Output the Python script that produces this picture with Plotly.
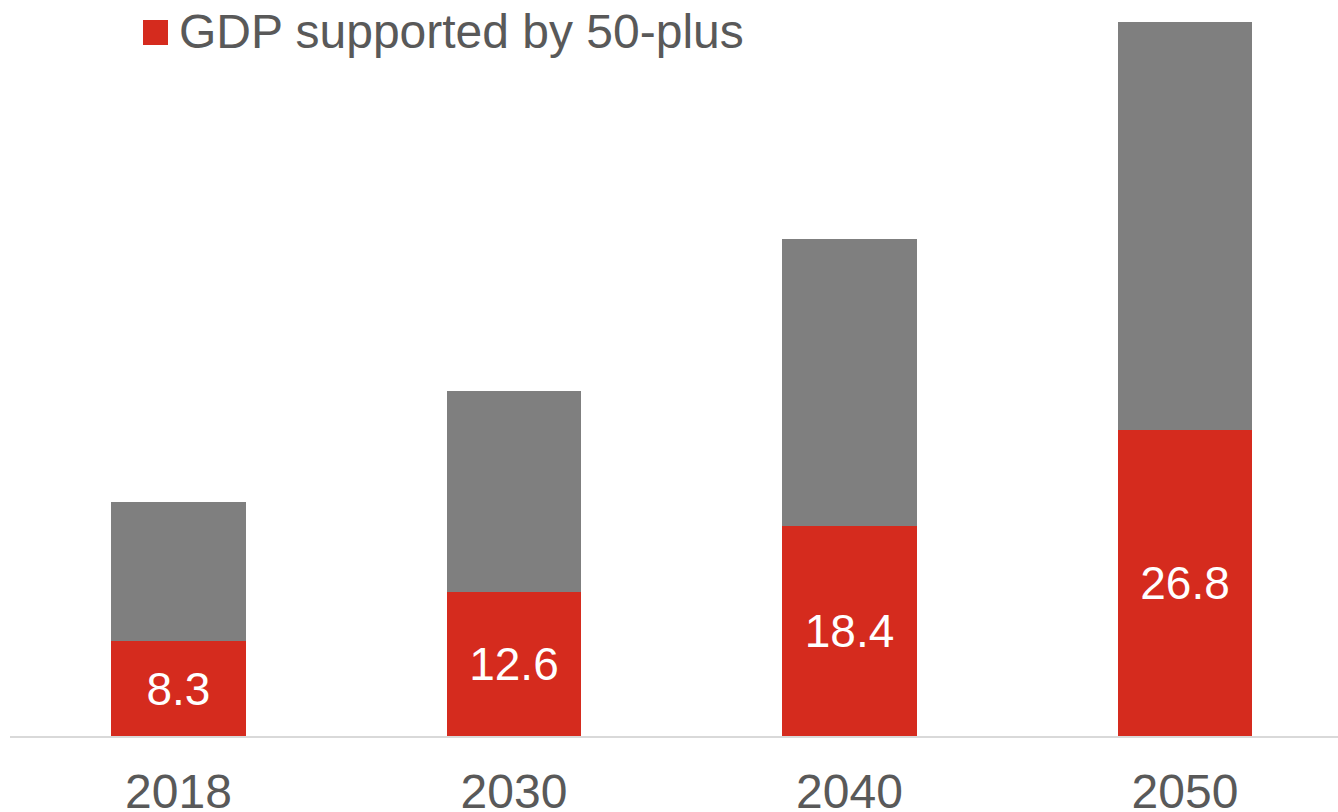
import plotly.graph_objects as go

# Stacked GDP bars: portion supported by the 50-plus population and the remainder
years = ["2018", "2030", "2040", "2050"]
gdp_50_plus = [8.3, 12.6, 18.4, 26.8]
gdp_rest = [12.2, 17.7, 25.2, 35.8]

RED = "#D52B1E"
GREY = "#7F7F7F"
TEXT = "#595959"
FONT = "Liberation Sans, Arial, sans-serif"

W, H = 1338, 812
L_MARGIN, B_MARGIN = 10, 76
plot_w = W - L_MARGIN
plot_h = H - B_MARGIN

fig = go.Figure()
fig.add_trace(go.Bar(
    x=years, y=gdp_50_plus, name="GDP supported by 50-plus",
    marker=dict(color=RED, line=dict(width=0)),
    text=[f"{v:.1f}" for v in gdp_50_plus],
    textposition="inside", insidetextanchor="middle", textangle=0,
    constraintext="none",
    textfont=dict(family=FONT, size=46, color="white"),
    hoverinfo="skip", showlegend=False,
))
fig.add_trace(go.Bar(
    x=years, y=gdp_rest, name="Other GDP",
    marker=dict(color=GREY, line=dict(width=0)),
    hoverinfo="skip", showlegend=False,
))

# Legend key: red swatch with its label, placed in pixel terms via paper coordinates
def px_x(p):
    return (p - L_MARGIN) / plot_w

def px_y(p):
    return (plot_h - p) / plot_h

fig.add_shape(type="rect", xref="paper", yref="paper",
              x0=px_x(143), x1=px_x(168), y0=px_y(45), y1=px_y(20),
              fillcolor=RED, line=dict(width=0))
fig.add_annotation(xref="paper", yref="paper", x=px_x(177), y=px_y(32),
                   xanchor="left", yanchor="middle", showarrow=False,
                   text="GDP supported by 50-plus",
                   font=dict(family=FONT, size=48, color=TEXT))

fig.update_layout(
    width=W, height=H,
    margin=dict(l=L_MARGIN, r=0, t=0, b=B_MARGIN, autoexpand=False),
    barmode="stack", bargap=0.6,
    plot_bgcolor="white", paper_bgcolor="white",
    font=dict(family=FONT, color=TEXT),
    xaxis=dict(
        type="category", range=[-0.502, 3.456],
        showline=True, linecolor="#D9D9D9", linewidth=2,
        ticks="outside", ticklen=12, tickcolor="rgba(0,0,0,0)",
        tickfont=dict(family=FONT, size=48, color=TEXT),
        showgrid=False, zeroline=False, fixedrange=True,
    ),
    yaxis=dict(
        range=[0, plot_h / 11.4], visible=False,
        showgrid=False, zeroline=False, fixedrange=True,
    ),
)

fig.write_html("out.html")
